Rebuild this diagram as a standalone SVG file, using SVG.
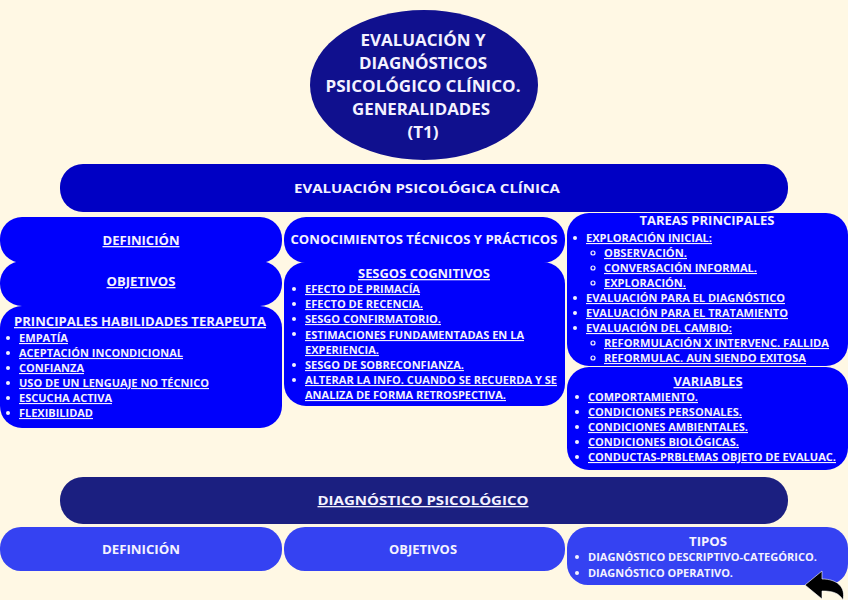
<svg xmlns="http://www.w3.org/2000/svg" width="848" height="600" viewBox="0 0 848 600">
<style>
text{font-family:"Open Sans","Liberation Sans",sans-serif;font-weight:bold;fill:#F4F2FF}
.t{font-size:16px;text-anchor:middle}
.h{font-size:13px}
.c{text-anchor:middle}
.i{font-size:11px}
.u{text-decoration:underline}
.b1{fill:#0000FC}
.b2{fill:#3542F2}
.dot{fill:#F4F2FF}
.ring{fill:none;stroke:#F4F2FF;stroke-width:1.2}
</style>
<rect width="848" height="600" fill="#FFF8E4"/>

<g id="title">
<ellipse cx="424" cy="85" rx="114" ry="75" fill="#10108E"/>
<text class="t" x="423" y="46" textLength="125" lengthAdjust="spacingAndGlyphs">EVALUACIÓN Y</text>
<text class="t" x="423" y="69" textLength="128" lengthAdjust="spacingAndGlyphs">DIAGNÓSTICOS</text>
<text class="t" x="423" y="92" textLength="195" lengthAdjust="spacingAndGlyphs">PSICOLÓGICO CLÍNICO.</text>
<text class="t" x="421" y="115" textLength="138" lengthAdjust="spacingAndGlyphs">GENERALIDADES</text>
<text class="t" x="423" y="138" textLength="31" lengthAdjust="spacingAndGlyphs">(T1)</text>
</g>

<g id="evaluacion">
<rect x="60" y="164" width="728" height="48" rx="23" fill="#0000C4"/>
<text class="h c" x="427" y="193" font-size="14" textLength="266" lengthAdjust="spacingAndGlyphs">EVALUACIÓN PSICOLÓGICA CLÍNICA</text>
</g>

<g id="ev-definicion">
<rect class="b1" x="0" y="217" width="282" height="46" rx="22"/>
<text class="h c u" x="141" y="245" textLength="77" lengthAdjust="spacingAndGlyphs">DEFINICIÓN</text>
</g>
<g id="ev-objetivos">
<rect class="b1" x="0" y="261" width="282" height="45" rx="22"/>
<text class="h c u" x="141" y="286" textLength="69" lengthAdjust="spacingAndGlyphs">OBJETIVOS</text>
</g>
<g id="ev-habilidades">
<rect class="b1" x="0" y="306" width="282" height="122" rx="22"/>
<text class="h u" x="14" y="326" textLength="252" lengthAdjust="spacingAndGlyphs">PRINCIPALES HABILIDADES TERAPEUTA</text>
<g class="dot"><circle cx="8" cy="338" r="2"/><circle cx="8" cy="353" r="2"/><circle cx="8" cy="368" r="2"/><circle cx="8" cy="383" r="2"/><circle cx="8" cy="398" r="2"/><circle cx="8" cy="413" r="2"/></g>
<text class="i u" x="19" y="342" textLength="49" lengthAdjust="spacingAndGlyphs">EMPATÍA</text>
<text class="i u" x="19" y="357" textLength="164" lengthAdjust="spacingAndGlyphs">ACEPTACIÓN INCONDICIONAL</text>
<text class="i u" x="19" y="372" textLength="65" lengthAdjust="spacingAndGlyphs">CONFIANZA</text>
<text class="i u" x="19" y="387" textLength="190" lengthAdjust="spacingAndGlyphs">USO DE UN LENGUAJE NO TÉCNICO</text>
<text class="i u" x="19" y="402" textLength="93" lengthAdjust="spacingAndGlyphs">ESCUCHA ACTIVA</text>
<text class="i u" x="19" y="417" textLength="74" lengthAdjust="spacingAndGlyphs">FLEXIBILIDAD</text>
</g>

<g id="ev-conocimientos">
<rect class="b1" x="284" y="217" width="281" height="46" rx="22"/>
<text class="h c" x="424" y="244" textLength="267" lengthAdjust="spacingAndGlyphs">CONOCIMIENTOS TÉCNICOS Y PRÁCTICOS</text>
</g>
<g id="ev-sesgos">
<rect class="b1" x="284" y="262" width="281" height="144" rx="22"/>
<text class="h c u" x="424" y="278" textLength="132" lengthAdjust="spacingAndGlyphs">SESGOS COGNITIVOS</text>
<g class="dot"><circle cx="294" cy="289" r="2"/><circle cx="294" cy="304" r="2"/><circle cx="294" cy="319" r="2"/><circle cx="294" cy="334" r="2"/><circle cx="294" cy="365" r="2"/><circle cx="294" cy="380" r="2"/></g>
<text class="i u" x="305" y="293" textLength="115" lengthAdjust="spacingAndGlyphs">EFECTO DE PRIMACÍA</text>
<text class="i u" x="305" y="308" textLength="118" lengthAdjust="spacingAndGlyphs">EFECTO DE RECENCIA.</text>
<text class="i u" x="305" y="323" textLength="136" lengthAdjust="spacingAndGlyphs">SESGO CONFIRMATORIO.</text>
<text class="i u" x="305" y="339" textLength="219" lengthAdjust="spacingAndGlyphs">ESTIMACIONES FUNDAMENTADAS EN LA</text>
<text class="i u" x="305" y="354" textLength="74" lengthAdjust="spacingAndGlyphs">EXPERIENCIA.</text>
<text class="i u" x="305" y="369" textLength="159" lengthAdjust="spacingAndGlyphs">SESGO DE SOBRECONFIANZA.</text>
<text class="i u" x="305" y="384" textLength="252" lengthAdjust="spacingAndGlyphs">ALTERAR LA INFO. CUANDO SE RECUERDA Y SE</text>
<text class="i u" x="305" y="399" textLength="201" lengthAdjust="spacingAndGlyphs">ANALIZA DE FORMA RETROSPECTIVA.</text>
</g>

<g id="ev-tareas">
<rect class="b1" x="567" y="213" width="281" height="153" rx="22"/>
<text class="h c" x="707" y="225" textLength="135" lengthAdjust="spacingAndGlyphs">TAREAS PRINCIPALES</text>
<g class="dot"><circle cx="575" cy="238" r="2"/><circle cx="575" cy="298" r="2"/><circle cx="575" cy="313" r="2"/><circle cx="575" cy="328" r="2"/></g>
<g class="ring"><circle cx="593" cy="253" r="2"/><circle cx="593" cy="268" r="2"/><circle cx="593" cy="283" r="2"/><circle cx="593" cy="343" r="2"/><circle cx="593" cy="358" r="2"/></g>
<text class="i u" x="586" y="242" textLength="126" lengthAdjust="spacingAndGlyphs">EXPLORACIÓN INICIAL:</text>
<text class="i u" x="604" y="257" textLength="83" lengthAdjust="spacingAndGlyphs">OBSERVACIÓN.</text>
<text class="i u" x="604" y="272" textLength="153" lengthAdjust="spacingAndGlyphs">CONVERSACIÓN INFORMAL.</text>
<text class="i u" x="604" y="287" textLength="82" lengthAdjust="spacingAndGlyphs">EXPLORACIÓN.</text>
<text class="i u" x="586" y="302" textLength="199" lengthAdjust="spacingAndGlyphs">EVALUACIÓN PARA EL DIAGNÓSTICO</text>
<text class="i u" x="586" y="317" textLength="202" lengthAdjust="spacingAndGlyphs">EVALUACIÓN PARA EL TRATAMIENTO</text>
<text class="i u" x="586" y="332" textLength="146" lengthAdjust="spacingAndGlyphs">EVALUACIÓN DEL CAMBIO:</text>
<text class="i u" x="604" y="347" textLength="225" lengthAdjust="spacingAndGlyphs">REFORMULACIÓN X INTERVENC. FALLIDA</text>
<text class="i u" x="604" y="362" textLength="202" lengthAdjust="spacingAndGlyphs">REFORMULAC. AUN SIENDO EXITOSA</text>
</g>

<g id="ev-variables">
<rect class="b1" x="567" y="367" width="281" height="103" rx="22"/>
<text class="h c u" x="708" y="386" textLength="69" lengthAdjust="spacingAndGlyphs">VARIABLES</text>
<g class="dot"><circle cx="577" cy="397" r="2"/><circle cx="577" cy="412" r="2"/><circle cx="577" cy="427" r="2"/><circle cx="577" cy="442" r="2"/><circle cx="577" cy="457" r="2"/></g>
<text class="i u" x="588" y="401" textLength="110" lengthAdjust="spacingAndGlyphs">COMPORTAMIENTO.</text>
<text class="i u" x="588" y="416" textLength="154" lengthAdjust="spacingAndGlyphs">CONDICIONES PERSONALES.</text>
<text class="i u" x="588" y="431" textLength="160" lengthAdjust="spacingAndGlyphs">CONDICIONES AMBIENTALES.</text>
<text class="i u" x="588" y="446" textLength="151" lengthAdjust="spacingAndGlyphs">CONDICIONES BIOLÓGICAS.</text>
<text class="i u" x="588" y="461" textLength="248" lengthAdjust="spacingAndGlyphs">CONDUCTAS-PRBLEMAS OBJETO DE EVALUAC.</text>
</g>

<g id="diagnostico">
<rect x="60" y="477" width="728" height="47" rx="23" fill="#1B1F80"/>
<text class="h c u" x="423" y="505" font-size="15" textLength="211" lengthAdjust="spacingAndGlyphs">DIAGNÓSTICO PSICOLÓGICO</text>
</g>
<g id="dg-definicion">
<rect class="b2" x="0" y="527" width="282" height="44" rx="21"/>
<text class="h c" x="141" y="554" textLength="78" lengthAdjust="spacingAndGlyphs">DEFINICIÓN</text>
</g>
<g id="dg-objetivos">
<rect class="b2" x="284" y="527" width="281" height="44" rx="21"/>
<text class="h c" x="423" y="554" textLength="68" lengthAdjust="spacingAndGlyphs">OBJETIVOS</text>
</g>
<g id="dg-tipos">
<rect class="b2" x="567" y="527" width="281" height="58" rx="21"/>
<text class="h c" x="708" y="546" textLength="38" lengthAdjust="spacingAndGlyphs">TIPOS</text>
<g class="dot"><circle cx="577" cy="557" r="2"/><circle cx="577" cy="573" r="2"/></g>
<text class="i" x="588" y="561" textLength="229" lengthAdjust="spacingAndGlyphs">DIAGNÓSTICO DESCRIPTIVO-CATEGÓRICO.</text>
<text class="i" x="588" y="577" textLength="145" lengthAdjust="spacingAndGlyphs">DIAGNÓSTICO OPERATIVO.</text>
</g>

<g id="back-arrow">
<path d="M805,585 L822,571 L822,579 C837,579 846,587 843,600 C839,593 833,591 822,591 L822,599 Z" fill="#000" stroke="#fff" stroke-width="0.6"/>
</g>
</svg>
